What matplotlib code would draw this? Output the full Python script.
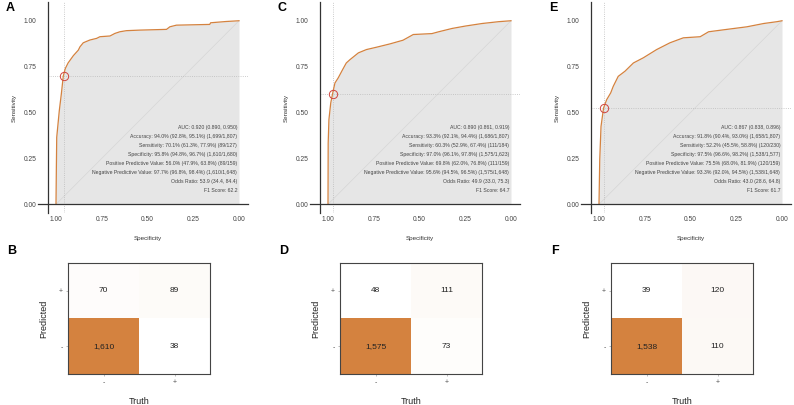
import matplotlib
matplotlib.use('Agg')
import matplotlib.pyplot as plt
import numpy as np
from matplotlib.colors import LinearSegmentedColormap

plt.rcParams['font.family'] = ['Liberation Sans', 'DejaVu Sans']

# ROC curves (specificity, sensitivity)
spec_a = [1.0, 0.998, 0.996, 0.982, 0.971, 0.960, 0.949, 0.934, 0.905, 0.878, 0.869, 0.851,
          0.815, 0.778, 0.760, 0.705, 0.678, 0.651, 0.615, 0.542, 0.396, 0.378, 0.342, 0.160,
          0.155, 0.069, 0.0]
sens_a = [0.0, 0.200, 0.365, 0.510, 0.600, 0.700, 0.740, 0.770, 0.810, 0.840, 0.858, 0.880,
          0.895, 0.904, 0.913, 0.917, 0.931, 0.940, 0.946, 0.949, 0.953, 0.967, 0.976, 0.980,
          0.989, 0.996, 1.0]
spec_c = [1.0, 0.999, 0.995, 0.985, 0.974, 0.962, 0.944, 0.920, 0.900, 0.880, 0.834, 0.790,
          0.734, 0.661, 0.590, 0.534, 0.432, 0.395, 0.322, 0.250, 0.158, 0.067, 0.0]
sens_c = [0.0, 0.333, 0.461, 0.552, 0.607, 0.661, 0.689, 0.734, 0.770, 0.788, 0.825, 0.843,
          0.856, 0.874, 0.894, 0.925, 0.930, 0.940, 0.958, 0.971, 0.985, 0.995, 1.0]
spec_e = [1.0, 0.996, 0.989, 0.975, 0.958, 0.936, 0.922, 0.895, 0.858, 0.812, 0.758, 0.685,
          0.612, 0.539, 0.447, 0.401, 0.301, 0.192, 0.100, 0.027, 0.0]
sens_e = [0.0, 0.242, 0.424, 0.525, 0.570, 0.607, 0.643, 0.697, 0.725, 0.770, 0.798, 0.843,
          0.880, 0.907, 0.913, 0.940, 0.953, 0.967, 0.985, 0.995, 1.0]

# chosen operating points
op_spec = [0.958, 0.970, 0.975]
op_sens = [0.701, 0.603, 0.522]

# confusion counts: tn, fp, fn, tp
tn = [1610, 1575, 1538]
fp = [70, 48, 39]
fn = [38, 73, 110]
tp = [89, 111, 120]

stats_a = ['AUC: 0.920 (0.890, 0.950)',
           'Accuracy: 94.0% (92.8%, 95.1%) (1,699/1,807)',
           'Sensitivity: 70.1% (61.3%, 77.9%) (89/127)',
           'Specificity: 95.8% (94.8%, 96.7%) (1,610/1,680)',
           'Positive Predictive Value: 56.0% (47.9%, 63.8%) (89/159)',
           'Negative Predictive Value: 97.7% (96.8%, 98.4%) (1,610/1,648)',
           'Odds Ratio: 53.9 (34.4, 84.4)',
           'F1 Score: 62.2']
stats_c = ['AUC: 0.890 (0.861, 0.919)',
           'Accuracy: 93.3% (92.1%, 94.4%) (1,686/1,807)',
           'Sensitivity: 60.3% (52.9%, 67.4%) (111/184)',
           'Specificity: 97.0% (96.1%, 97.8%) (1,575/1,623)',
           'Positive Predictive Value: 69.8% (62.0%, 76.8%) (111/159)',
           'Negative Predictive Value: 95.6% (94.5%, 96.5%) (1,575/1,648)',
           'Odds Ratio: 49.9 (33.0, 75.3)',
           'F1 Score: 64.7']
stats_e = ['AUC: 0.867 (0.838, 0.896)',
           'Accuracy: 91.8% (90.4%, 93.0%) (1,658/1,807)',
           'Sensitivity: 52.2% (45.5%, 58.8%) (120/230)',
           'Specificity: 97.5% (96.6%, 98.2%) (1,538/1,577)',
           'Positive Predictive Value: 75.5% (68.0%, 81.9%) (120/159)',
           'Negative Predictive Value: 93.3% (92.0%, 94.5%) (1,538/1,648)',
           'Odds Ratio: 43.0 (28.6, 64.8)',
           'F1 Score: 61.7']

roc_letters = ['A', 'C', 'E']
cm_letters = ['B', 'D', 'F']
ticks = [1.0, 0.75, 0.5, 0.25, 0.0]
tick_labels = ['1.00', '0.75', '0.50', '0.25', '0.00']

W, H = 794, 405
fig = plt.figure(figsize=(W / 100, H / 100), dpi=100)

orange = '#D4823F'
dark = '#333333'
cmap = LinearSegmentedColormap.from_list('wo', ['#FFFFFF', orange])


def fbox(x0, y0, x1, y1):
    # pixel box -> figure fraction rect
    return [x0 / W, (H - y1) / H, (x1 - x0) / W, (y1 - y0) / H]


roc_left = [56, 328, 599]
curves = [(spec_a, sens_a, stats_a), (spec_c, sens_c, stats_c), (spec_e, sens_e, stats_e)]

for i, (sp, se, st) in enumerate(curves):
    x1 = roc_left[i]
    # 183 px per unit; xlim (1.045, -0.05), ylim (-0.05, 1.10)
    ax = fig.add_axes(fbox(x1 - 0.045 * 183, 20.7 - 0.10 * 183,
                           x1 + 1.05 * 183, 204.3 + 0.05 * 183))
    ax.set_xlim(1.045, -0.05)
    ax.set_ylim(-0.05, 1.10)
    for s in ax.spines.values():
        s.set_visible(False)
    ax.fill_between(sp, se, 0, color='#E6E6E6', lw=0, zorder=1)
    ax.plot([1, 0], [0, 1], color='#D6D6D6', lw=0.5, zorder=2)
    ax.axvline(op_spec[i], color='#BBBBBB', ls=':', lw=0.6, zorder=2)
    ax.axhline(op_sens[i], color='#BBBBBB', ls=':', lw=0.6, zorder=2)
    ax.plot(sp, se, color=orange, lw=0.9, zorder=3)
    ax.plot(op_spec[i], op_sens[i], 'o', ms=6, mfc='none', mec='#D0453F', mew=0.7, zorder=4)
    # axis lines
    ax.plot([1.042, 1.042], [-0.05, 1.10], color=dark, lw=0.9, clip_on=False, zorder=5)
    ax.plot([1.10, -0.05], [0, 0], color=dark, lw=0.9, clip_on=False, zorder=5)
    ax.set_xticks(ticks)
    ax.set_xticklabels(tick_labels)
    ax.set_yticks(ticks[::-1])
    ax.set_yticklabels(tick_labels[::-1])
    ax.tick_params(length=0, labelsize=4.8, labelcolor='#444444', pad=2)
    ax.tick_params(axis='y', pad=8)
    ax.set_xlabel('Specificity', fontsize=4.5, color='#333333', labelpad=9)
    ax.set_ylabel('Sensitivity', fontsize=4.5, color='#333333', labelpad=5)
    for k, line in enumerate(st):
        ax.text(0.01, 0.419 - 0.049 * k, line, ha='right', va='center',
                fontsize=3.7, color='#444444', zorder=6)
    fig.text((x1 - 46) / W, 1 - 8 / H, roc_letters[i], fontsize=9, fontweight='bold',
             ha='center', va='center')

cm_left = [68, 340, 611]
for i in range(3):
    x0 = cm_left[i]
    ax = fig.add_axes(fbox(x0, 263, x0 + 142, 374))
    mat = np.array([[fp[i], tp[i]], [tn[i], fn[i]]])
    ax.imshow(mat, cmap=cmap, vmin=mat.min(), vmax=mat.max(), aspect='auto')
    for r in range(2):
        for c in range(2):
            ax.text(c, r, f'{mat[r, c]:,}', ha='center', va='center', fontsize=6, color='#222222')
    ax.set_xticks([0, 1])
    ax.set_xticklabels(['-', '+'])
    ax.set_yticks([0, 1])
    ax.set_yticklabels(['+', '-'])
    ax.tick_params(length=1.5, width=0.4, color='#888888', labelsize=5, labelcolor='#555555', pad=2)
    for s in ax.spines.values():
        s.set_color('#444444')
        s.set_linewidth(0.8)
    ax.set_xlabel('Truth', fontsize=6.5, color='#222222', labelpad=8)
    ax.set_ylabel('Predicted', fontsize=6.5, color='#222222', labelpad=8)
    fig.text((x0 - 56) / W, 1 - 251 / H, cm_letters[i], fontsize=9, fontweight='bold',
             ha='center', va='center')

fig.savefig('out.png', dpi=100)
